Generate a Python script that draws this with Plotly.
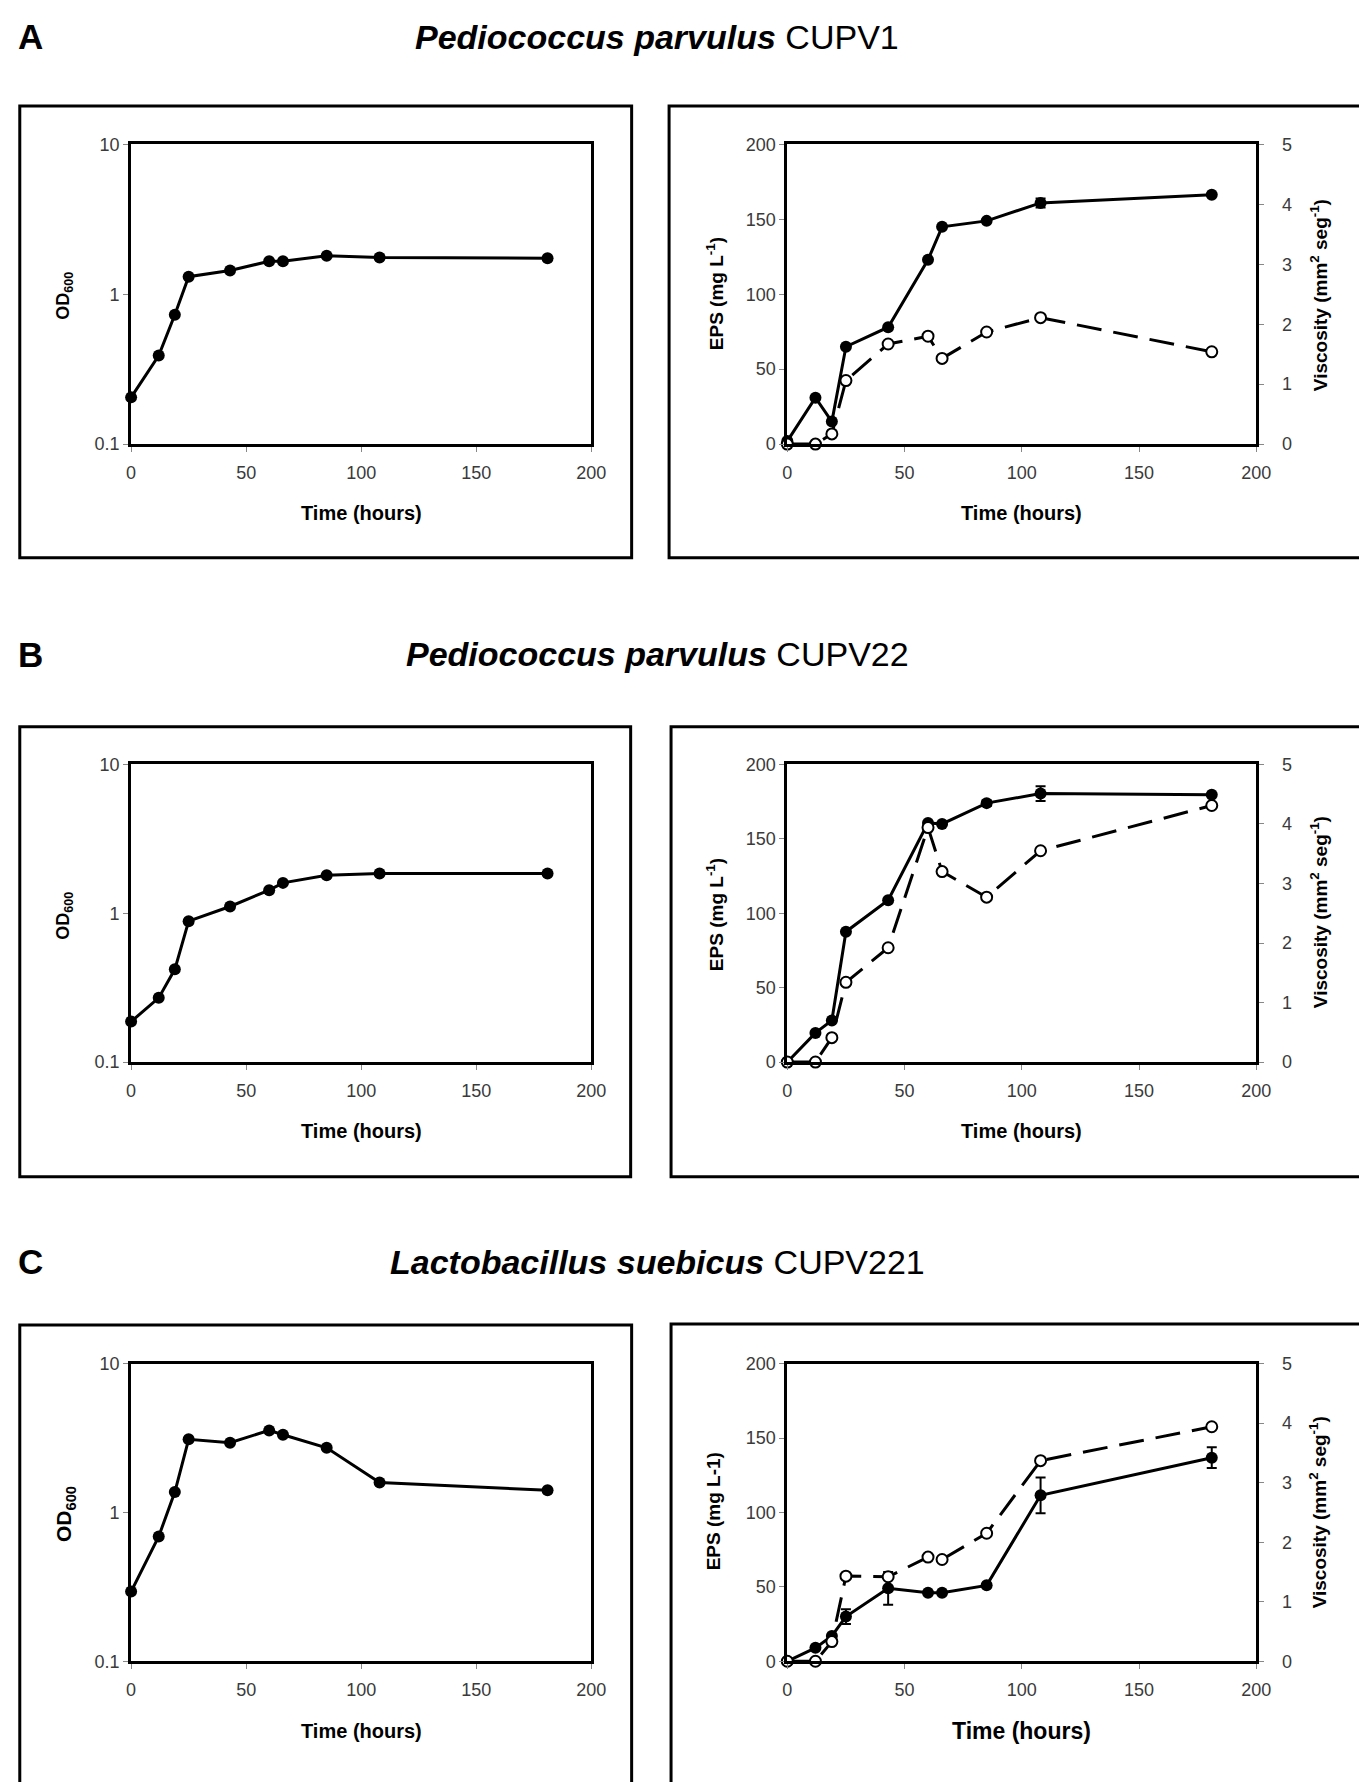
import plotly.graph_objects as go

# ---------------- data ----------------
time_h = [0, 12, 19, 25, 43, 60, 66, 85, 108, 181]

od_A = [0.205, 0.39, 0.73, 1.31, 1.44, 1.66, 1.66, 1.81, 1.76, 1.74]
eps_A = [2, 31, 15, 65, 78, 123, 145, 149, 161, 166.5]
eps_A_err = [None, None, None, None, None, None, None, None, 3, None]
visc_A = [0, 0, 0.17, 1.06, 1.67, 1.80, 1.43, 1.87, 2.11, 1.54]

od_B = [0.187, 0.27, 0.42, 0.885, 1.11, 1.43, 1.60, 1.80, 1.85, 1.85]
eps_B = [0, 19.6, 28, 87.6, 108.7, 160.7, 160, 174, 180.4, 179.6]
eps_B_err = [None, None, None, None, None, None, None, 2, 5, None]
visc_B = [0, 0, 0.41, 1.34, 1.92, 3.94, 3.2, 2.77, 3.55, 4.31]

od_C = [0.294, 0.69, 1.37, 3.1, 2.94, 3.56, 3.33, 2.72, 1.59, 1.41]
eps_C = [0, 9, 17, 30, 49, 46, 46, 51, 111.5, 136.8]
eps_C_err = [None, None, None, 5, 11, None, None, None, 12, 7]
visc_C = [0, 0, 0.33, 1.43, 1.42, 1.75, 1.71, 2.15, 3.37, 3.94]

panel_letters = ["A", "B", "C"]
species = ["Pediococcus parvulus", "Pediococcus parvulus", "Lactobacillus suebicus"]
strains = ["CUPV1", "CUPV22", "CUPV221"]
time_ticks = [0, 50, 100, 150, 200]
od_ticks = [0.1, 1, 10]
od_tick_text = ["0.1", "1", "10"]
eps_ticks = [0, 50, 100, 150, 200]
visc_ticks = [0, 1, 2, 3, 4, 5]

# ---------------- geometry helpers ----------------
W, H = 1359, 1782
FONT = "Liberation Sans, Arial, Helvetica, sans-serif"


def px(x):
    return x / W


def py(y):
    return 1 - y / H


left_x = (128, 595)
right_x = (794, 1270)
rows_y = [(136, 439), (763, 1064), (1369, 1670)]

fig = go.Figure()

od_sets = [od_A, od_B, od_C]
eps_sets = [eps_A, eps_B, eps_C]
err_sets = [eps_A_err, eps_B_err, eps_C_err]
visc_sets = [visc_A, visc_B, visc_C]

tickfont = dict(family=FONT, size=18, color="#3a3a3a")

layout_axes = {}
annotations = []
shapes = []


def an(i):
    return "" if i == 1 else str(i)


for r in range(3):
    y0, y1 = rows_y[r]
    ydom = [py(y1), py(y0)]
    xl = 2 * r + 1          # left panel x axis
    xr = 2 * r + 2          # right panel x axis
    yl = 3 * r + 1          # left panel y axis (log OD)
    ye = 3 * r + 2          # right panel EPS
    yv = 3 * r + 3          # right panel viscosity

    base = dict(showline=True, linewidth=3, linecolor="black", ticks="outside",
                ticklen=5, tickcolor="#888888", tickwidth=1, tickfont=tickfont,
                showgrid=False, zeroline=False, fixedrange=True)
    common_x = dict(base, range=[0, 200], tickvals=time_ticks, mirror=True,
                    ticklabelstandoff=5)
    layout_axes["xaxis" + an(xl)] = dict(common_x, domain=[px(left_x[0]), px(left_x[1])],
                                         anchor="y" + an(yl))
    layout_axes["xaxis" + an(xr)] = dict(common_x, domain=[px(right_x[0]), px(right_x[1])],
                                         anchor="y" + an(ye))
    layout_axes["yaxis" + an(yl)] = dict(base, type="log", range=[-1, 1], tickvals=od_ticks,
                                         ticktext=od_tick_text, domain=ydom,
                                         anchor="x" + an(xl), mirror=True)
    layout_axes["yaxis" + an(ye)] = dict(base, range=[0, 200], tickvals=eps_ticks, domain=ydom,
                                         anchor="x" + an(xr), mirror=True)
    layout_axes["yaxis" + an(yv)] = dict(base, range=[0, 5], tickvals=visc_ticks,
                                         overlaying="y" + an(ye), side="right",
                                         anchor="x" + an(xr), ticklabelstandoff=14)

    # OD growth curve
    fig.add_trace(go.Scatter(x=time_h, y=od_sets[r], mode="lines+markers",
                             xaxis="x" + an(xl), yaxis="y" + an(yl),
                             line=dict(color="black", width=3),
                             marker=dict(symbol="circle", size=12, color="black"),
                             cliponaxis=False, showlegend=False))
    # EPS (filled)
    fig.add_trace(go.Scatter(x=time_h, y=eps_sets[r], mode="lines+markers",
                             xaxis="x" + an(xr), yaxis="y" + an(ye),
                             line=dict(color="black", width=3),
                             marker=dict(symbol="circle", size=12, color="black"),
                             error_y=dict(type="data", array=err_sets[r], visible=True,
                                          color="black", thickness=2, width=5),
                             cliponaxis=False, showlegend=False))
    # Viscosity (open, dashed)
    fig.add_trace(go.Scatter(x=time_h, y=visc_sets[r], mode="lines+markers",
                             xaxis="x" + an(xr), yaxis="y" + an(yv),
                             line=dict(color="black", width=3, dash="25px,12px"),
                             marker=dict(symbol="circle", size=11, color="white",
                                         line=dict(color="black", width=2)),
                             cliponaxis=False, showlegend=False))

# ---------------- outer boxes ----------------
boxes = [
    (15, 97, 636, 554), (674, 97, 1400, 554),
    (15, 725, 635, 1180), (676, 725, 1400, 1180),
    (15, 1330, 636, 1830), (676, 1329, 1400, 1830),
]
for (x0, y0, x1, y1) in boxes:
    shapes.append(dict(type="rect", xref="paper", yref="paper",
                       x0=px(x0), x1=px(x1), y0=py(y1), y1=py(y0),
                       line=dict(color="black", width=3), fillcolor="rgba(0,0,0,0)",
                       layer="below"))


# ---------------- texts ----------------
def txt(x, y, text, size, bold=False, angle=0, xanchor="center"):
    t = "<b>" + text + "</b>" if bold else text
    annotations.append(dict(x=px(x), y=py(y), xref="paper", yref="paper", text=t,
                            showarrow=False, textangle=angle, xanchor=xanchor,
                            yanchor="middle",
                            font=dict(family=FONT, size=size, color="black")))


letter_y = [27, 652, 1266]
title_y = [27, 651, 1266]
for r in range(3):
    txt(11, letter_y[r], panel_letters[r], 35, bold=True, xanchor="left")
    txt(662, title_y[r], "<b><i>" + species[r] + "</i></b> " + strains[r], 34)

# axis titles
time_y = [509, 1134, 1741]
for r in range(3):
    big = (r == 2)
    txt(362, time_y[r], "Time (hours)", 20, bold=True)
    txt(1032, time_y[r], "Time (hours)", 23 if big else 20, bold=True)
od_y = [289, 916, 1521]
for r in range(3):
    txt(61, od_y[r], "OD<sub>600</sub>", 21 if r == 2 else 18, bold=True, angle=-90)
eps_y = [287, 915, 1518]
eps_titles = ["EPS (mg L<sup>-1</sup>)", "EPS (mg L<sup>-1</sup>)", "EPS (mg L-1)"]
for r in range(3):
    txt(720, eps_y[r], eps_titles[r], 19, bold=True, angle=-90)
visc_y = [288, 912, 1519]
for r in range(3):
    txt(1333, visc_y[r], "Viscosity (mm<sup>2</sup> seg<sup>-1</sup>)", 19, bold=True, angle=-90)

fig.update_layout(**layout_axes)
fig.update_layout(width=W, height=H, margin=dict(l=0, r=0, t=0, b=0),
                  paper_bgcolor="white", plot_bgcolor="white",
                  annotations=annotations, shapes=shapes, showlegend=False,
                  font=dict(family=FONT))

fig.write_html("out.html", config={"displayModeBar": False})
